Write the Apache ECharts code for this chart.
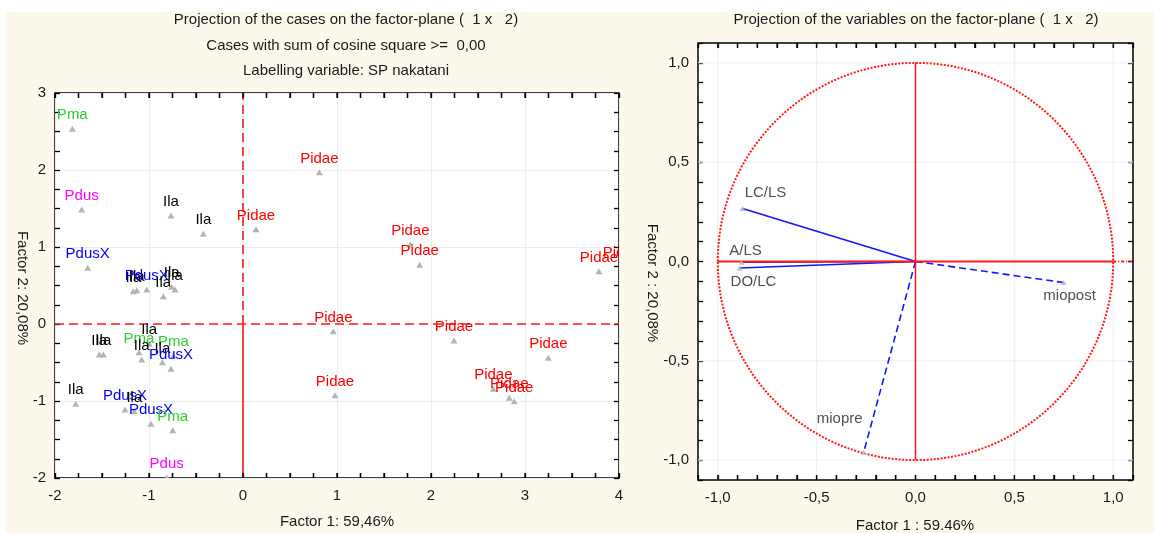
<!DOCTYPE html>
<html>
<head>
<meta charset="utf-8">
<script src="https://cdn.jsdelivr.net/npm/echarts@6/dist/echarts.min.js"></script>
<style>
  html, body { margin: 0; padding: 0; background: #ffffff; }
  #paper { position: absolute; left: 6px; top: 12px; width: 1148px; height: 521px; background: #fdf8ec; }
  .plot { position: absolute; background: #ffffff; }
  #plotCases { left: 55px; top: 93px; width: 564px; height: 385px; }
  #plotVars { left: 698px; top: 43px; width: 435px; height: 437px; }
  #chart { position: absolute; left: 0; top: 0; width: 1154px; height: 533px; }
</style>
</head>
<body>
<div id="paper"></div>
<div class="plot" id="plotCases"></div>
<div class="plot" id="plotVars"></div>
<div id="chart"></div>
<script>
// ---- Cases: labelling variable (SP nakatani) and factor scores ----
const caseLabels = [
  'Pma', 'Pdus', 'PdusX', 'Ila', 'Ila', 'Pidae',
  'Ila', 'Ila', 'PdusX', 'Ila', 'Ila', 'Ila',
  'Ila', 'Ila', 'Ila', 'Pma', 'Ila', 'Pma', 'Ila', 'PdusX',
  'Ila', 'PdusX', 'Ila', 'PdusX', 'Pma', 'Pdus',
  'Pidae', 'Pidae', 'Pidae', 'Pidae', 'Pidae',
  'Pidae', 'Pidae', 'Pidae', 'Pidae', 'Pidae', 'Pidae', 'Pidae'
];
const caseF1 = [
  -1.816, -1.716, -1.652, -0.766, -0.422, 0.138,
  -1.167, -1.131, -1.024, -0.848, -0.759, -0.723,
  -1.529, -1.486, -0.997, -1.106, -1.078, -0.741, -0.858, -0.766,
  -1.780, -1.255, -1.156, -0.979, -0.748, -0.812,
  0.812, 1.780, 1.880, 3.787, 4.030,
  0.961, 2.245, 3.248, 0.979, 2.663, 2.833, 2.886
];
const caseF2 = [
  2.529, 1.481, 0.723, 1.403, 1.165, 1.225,
  0.419, 0.432, 0.442, 0.355, 0.477, 0.442,
  -0.403, -0.403, -0.263, -0.373, -0.468, -0.416, -0.503, -0.588,
  -1.043, -1.117, -1.139, -1.303, -1.385, -2.000,
  1.965, 1.026, 0.762, 0.679, 0.745,
  -0.100, -0.221, -0.446, -0.931, -0.848, -0.965, -1.009
];

// ---- Variables: coordinates on factor 1 and factor 2 ----
const varNames = ['LC/LS', 'A/LS', 'DO/LC', 'miopost', 'miopre'];
const varF1 = [-0.875, -0.880, -0.890, 0.749, -0.262];
const varF2 = [0.267, -0.004, -0.033, -0.106, -0.960];

// ---- Tick labels ----
const casesXTicks = [-2, -1, 0, 1, 2, 3, 4];
const casesYTicks = [-2, -1, 0, 1, 2, 3];
const varsTickValues = [-1, -0.5, 0, 0.5, 1];
const varsTickLabels = ['-1,0', '-0,5', '0,0', '0,5', '1,0'];

// ---- Styling ----
const FONT = '"Liberation Sans", Arial, sans-serif';
const TEXT = '#1a1a1a';
const labelColors = { Ila: '#000000', Pidae: '#ff0000', Pma: '#2ecc2e', Pdus: '#ff00ff', PdusX: '#0000ff' };
const varStyle = {
  'LC/LS':   { dashed: false, offset: [23, -16] },
  'A/LS':    { dashed: false, offset: [4, -11] },
  'DO/LC':   { dashed: false, offset: [14, 14] },
  'miopost': { dashed: true,  offset: [6, 13] },
  'miopre':  { dashed: true,  offset: [-24, -33] }
};
const RED = '#ff1a1a';
const BLUE = '#1414ff';
const TICK_LEN = 5;

const caseGrid = { left: 55, top: 93, right: 535, bottom: 55 };
const varGrid = { left: 698, top: 43, right: 21, bottom: 53 };

// axis ranges and tick steps of both planes
const caseRange = { xMin: -2, xMax: 4, yMin: -2, yMax: 3, minorStep: 0.25 };
const varRange = { xMin: -1.1, xMax: 1.1, yMin: -1.1, yMax: 1.1, minorStep: 0.1 };

function findLabel(values, labels, v) {
  for (let i = 0; i < values.length; i++) {
    if (Math.abs(values[i] - v) < 1e-6) return labels[i];
  }
  return '';
}

function tickSteps(min, max, step) {
  const out = [];
  const n = Math.round((max - min) / step);
  for (let k = 0; k <= n; k++) out.push(Math.round((min + k * step) * 1000) / 1000);
  return out;
}

// frame axis: no line of its own (the grid border is the frame), ticks pointing inward
function frameAxis(base) {
  return Object.assign({
    type: 'value',
    axisLine: { show: false, onZero: false },
    axisTick: { show: true, inside: true, length: TICK_LEN, lineStyle: { color: '#000', width: 1.3 } },
    axisLabel: { show: false },
    splitLine: { show: false }
  }, base);
}

const minor4 = { show: true, splitNumber: 4, length: TICK_LEN, lineStyle: { color: '#000', width: 1.3 } };

// cases axes: labelled integers, minor ticks every 0.25
const caseX = frameAxis({
  gridIndex: 0, position: 'bottom', min: caseRange.xMin, max: caseRange.xMax, interval: 1, minorTick: minor4,
  axisLabel: { show: true, margin: 10, color: TEXT, fontSize: 15, fontFamily: FONT,
    formatter: v => String(findLabel(casesXTicks, casesXTicks, v)) },
  splitLine: { show: true, lineStyle: { color: '#ececec', width: 1 } }
});
const caseXTop = frameAxis({ gridIndex: 0, position: 'top', min: caseRange.xMin, max: caseRange.xMax, interval: 1, minorTick: minor4 });
const caseY = frameAxis({
  gridIndex: 0, position: 'left', min: caseRange.yMin, max: caseRange.yMax, interval: 1, minorTick: minor4,
  axisLabel: { show: true, margin: 9, color: TEXT, fontSize: 15, fontFamily: FONT,
    formatter: v => String(findLabel(casesYTicks, casesYTicks, v)) },
  splitLine: { show: true, lineStyle: { color: '#ececec', width: 1 } }
});
const caseYRight = frameAxis({ gridIndex: 0, position: 'right', min: caseRange.yMin, max: caseRange.yMax, interval: 1, minorTick: minor4 });

// variables axes: ticks every 0.1, labels every 0.5
const varX = frameAxis({
  gridIndex: 1, position: 'bottom', min: varRange.xMin, max: varRange.xMax, interval: 0.1,
  axisLabel: { show: true, margin: 10, color: TEXT, fontSize: 15, fontFamily: FONT,
    formatter: v => findLabel(varsTickValues, varsTickLabels, v) }
});
const varXTop = frameAxis({ gridIndex: 1, position: 'top', min: varRange.xMin, max: varRange.xMax, interval: 0.1 });
const varY = frameAxis({
  gridIndex: 1, position: 'left', min: varRange.yMin, max: varRange.yMax, interval: 0.1,
  axisLabel: { show: true, margin: 9, color: TEXT, fontSize: 15, fontFamily: FONT,
    formatter: v => findLabel(varsTickValues, varsTickLabels, v) }
});
const varYRight = frameAxis({ gridIndex: 1, position: 'right', min: varRange.yMin, max: varRange.yMax, interval: 0.1 });

// axis indices: 0/1 belong to the cases plane, 2/3 to the variables plane
const CASES = 0, VARS = 2;

function refLine(ai, points, color, width, dash, z) {
  return {
    type: 'line', xAxisIndex: ai, yAxisIndex: ai, data: points,
    symbol: 'none', silent: true, animation: false, z: z || 2,
    lineStyle: { color: color, width: width, type: dash || 'solid' }
  };
}

// inward tick marks on the top and bottom edges of a plane's frame
function frameTicks(ai, range) {
  return {
    type: 'custom', xAxisIndex: ai, yAxisIndex: ai, clip: false, silent: true, animation: false, z: 6,
    data: tickSteps(range.xMin, range.xMax, range.minorStep).map(v => [v, range.yMin]),
    renderItem: function (params, api) {
      const b = api.coord([api.value(0), range.yMin]);
      const t = api.coord([api.value(0), range.yMax]);
      const st = { stroke: '#000', lineWidth: 1.3 };
      return {
        type: 'group',
        children: [
          { type: 'line', shape: { x1: b[0], y1: b[1], x2: b[0], y2: b[1] - TICK_LEN }, style: st },
          { type: 'line', shape: { x1: t[0], y1: t[1], x2: t[0], y2: t[1] + TICK_LEN }, style: st }
        ]
      };
    }
  };
}

const series = [];

// origin lines of the cases plane
series.push(refLine(CASES, [[-2, 0], [4, 0]], RED, 1.6, [9, 5]));
series.push(refLine(CASES, [[0, 0], [0, 3]], RED, 1.6, [9, 5]));
series.push(refLine(CASES, [[0, -2], [0, 0]], RED, 1.6));

// case points with their labels, clipped to the plot frame
series.push({
  type: 'custom', xAxisIndex: CASES, yAxisIndex: CASES, clip: true, animation: false, z: 3,
  data: caseF1.map((x, i) => [x, caseF2[i], i]),
  renderItem: function (params, api) {
    const p = api.coord([api.value(0), api.value(1)]);
    const lab = caseLabels[api.value(2)];
    return {
      type: 'group',
      children: [
        { type: 'polygon',
          shape: { points: [[p[0], p[1] - 3.5], [p[0] + 3.5, p[1] + 2.5], [p[0] - 3.5, p[1] + 2.5]] },
          style: { fill: '#b4b4b4' } },
        { type: 'text', x: p[0], y: p[1] - 6.5,
          style: { text: lab, fill: labelColors[lab], font: '15px ' + FONT,
                   align: 'center', verticalAlign: 'bottom' } }
      ]
    };
  }
});

// faint grid of the variables plane
varsTickValues.filter(v => v !== 0).forEach(v => {
  series.push(refLine(VARS, [[v, -1.1], [v, 1.1]], '#eeeeee', 1, 'solid', 1));
  series.push(refLine(VARS, [[-1.1, v], [1.1, v]], '#eeeeee', 1, 'solid', 1));
});

// unit circle of correlations
series.push({
  type: 'custom', xAxisIndex: VARS, yAxisIndex: VARS, clip: true, animation: false, z: 2, silent: true,
  data: [[0, 0, 1]],
  renderItem: function (params, api) {
    const c = api.coord([api.value(0), api.value(1)]);
    const s = api.size([api.value(2), api.value(2)]);
    return {
      type: 'ellipse',
      shape: { cx: c[0], cy: c[1], rx: s[0], ry: s[1] },
      style: { fill: null, stroke: RED, lineWidth: 2, lineDash: [2, 1.5] }
    };
  }
});

// variable vectors
varNames.forEach((n, i) => {
  series.push({
    type: 'line', xAxisIndex: VARS, yAxisIndex: VARS, symbol: 'none', animation: false, z: 3, silent: true,
    data: [[0, 0], [varF1[i], varF2[i]]],
    lineStyle: { color: BLUE, width: 1.6, type: varStyle[n].dashed ? [7, 4] : 'solid' }
  });
});

// axes through the origin of the variables plane, drawn over the vectors
series.push(refLine(VARS, [[-1, 0], [1, 0]], RED, 1.8, 'solid', 4));
series.push(refLine(VARS, [[1, 0], [1.1, 0]], RED, 1.8, [3, 2, 1, 2], 4));
series.push(refLine(VARS, [[0, -1], [0, 1]], RED, 1.5, 'solid', 4));

// vector end points with names
series.push({
  type: 'scatter', xAxisIndex: VARS, yAxisIndex: VARS, animation: false, z: 5, silent: true,
  symbol: 'triangle', symbolSize: [6, 5],
  itemStyle: { color: '#b4b4b4' },
  data: varNames.map((n, i) => ({
    name: n, value: [varF1[i], varF2[i]],
    label: { show: true, position: 'inside', offset: varStyle[n].offset, formatter: n,
             color: '#222', fontSize: 15, fontFamily: FONT }
  }))
});

// frame ticks along the horizontal edges
series.push(frameTicks(CASES, caseRange));
series.push(frameTicks(VARS, varRange));

function txt(x, y, s, rot) {
  return {
    type: 'text', x: x, y: y, rotation: rot || 0, silent: true,
    style: { text: s, fill: TEXT, font: '15px ' + FONT, align: 'center', verticalAlign: 'middle' }
  };
}

const option = {
  animation: false,
  backgroundColor: 'transparent',
  grid: [
    Object.assign({ show: true, backgroundColor: 'transparent', borderColor: '#000', borderWidth: 1.5 }, caseGrid),
    Object.assign({ show: true, backgroundColor: 'transparent', borderColor: '#000', borderWidth: 1.5 }, varGrid)
  ],
  xAxis: [caseX, caseXTop, varX, varXTop],
  yAxis: [caseY, caseYRight, varY, varYRight],
  series: series,
  graphic: [
    txt(346, 20, 'Projection of the cases on the factor-plane (  1 x   2)'),
    txt(346, 46, 'Cases with sum of cosine square >=  0,00'),
    txt(346, 71, 'Labelling variable: SP nakatani'),
    txt(337, 522, 'Factor 1: 59,46%'),
    txt(22, 288, 'Factor 2: 20,08%', -Math.PI / 2),
    txt(916, 20, 'Projection of the variables on the factor-plane (  1 x   2)'),
    txt(915, 526, 'Factor 1 : 59.46%'),
    txt(652, 283, 'Factor 2 : 20,08%', -Math.PI / 2)
  ]
};

const chart = echarts.init(document.getElementById('chart'), null, { renderer: 'canvas' });
chart.setOption(option);
</script>
</body>
</html>
